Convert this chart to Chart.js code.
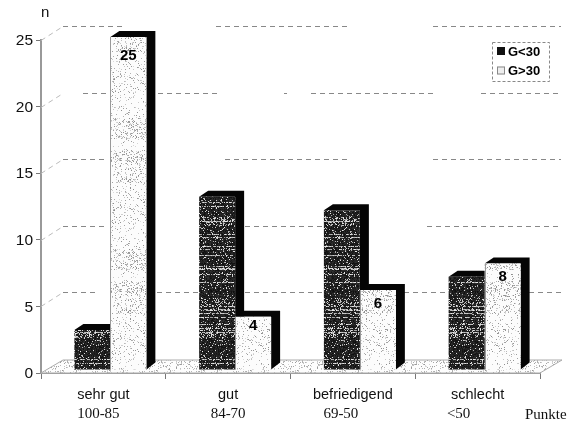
<!DOCTYPE html>
<html>
<head>
<meta charset="utf-8">
<style>html,body{margin:0;padding:0;background:#fff}canvas{display:block}</style>
<script src="https://cdn.jsdelivr.net/npm/chart.js@4"></script>
</head>
<body>
<canvas id="c" width="568" height="422"></canvas>
<script>
const categories = ['sehr gut', 'gut', 'befriedigend', 'schlecht'];
const pointRanges = ['100-85', '84-70', '69-50', '<50'];
const seriesNames = ['G<30', 'G>30'];
const lowValues = [3, 13, 12, 7];
const highValues = [25, 4, 6, 8];
const yTicks = [5, 10, 15, 20, 25];

// styling / layout of the faux-3D scene
const depthX = 9, depthY = 6, barDX = 7, barDY = -3;
const floorDX = 22, floorDY = 13;
const labelDrop = [19, 9, 14, 13];
const rangeShift = [-5, 0, -12, -19];
const gridRuns = {
  25: [[63,126],[216,351],[433,561]],
  20: [[83,107],[158,220],[284,287],[311,434],[481,561]],
  15: [[63,107],[225,350],[433,561]],
  10: [[63,107],[245,324],[427,561]],
  5:  [[63,97],[148,198],[245,324],[404,448],[520,561]]
};

function hash(a, b) {
  const s = Math.sin(a * 127.1 + b * 311.7) * 43758.5453;
  return s - Math.floor(s);
}
function tile(w, h, fn) {
  const cv = document.createElement('canvas');
  cv.width = w; cv.height = h;
  const g = cv.getContext('2d');
  const im = g.createImageData(w, h);
  for (let y = 0; y < h; y++) for (let x = 0; x < w; x++) {
    const v = fn(x, y), i = (y * w + x) * 4;
    im.data[i] = im.data[i+1] = im.data[i+2] = v; im.data[i+3] = 255;
  }
  g.putImageData(im, 0, 0);
  return document.getElementById('c').getContext('2d').createPattern(cv, 'repeat');
}
const darkFill = tile(61, 157, (x, y) => {
  const row = hash(y, 3.3);
  const band = hash(Math.floor(y / 9), 9.1);
  const bright = row > 0.88 ? 0.7 : (band > 0.7 ? 0.28 : 0.1);
  return hash(x, y + 7) < bright ? 150 + 90 * hash(x + 2, y) : 14 + 35 * hash(x, y + 1);
});
const lightFill = tile(59, 131, (x, y) => {
  const band = hash(Math.floor(y / 11), 1.7);
  return hash(x + 5, y) < 0.07 + 0.2 * band ? 140 + 80 * hash(x, y + 4) : 252;
});
const floorFill = tile(47, 23, (x, y) => hash(x + 9, y + 2) < 0.2 ? 150 + 70 * hash(x, y) : 253);

const scene = {
  id: 'scene',
  beforeDatasetsDraw(chart) {
    const { ctx, scales: { x, y } } = chart;
    const y0 = y.getPixelForValue(0), l = x.left, r = x.right;
    ctx.save();
    // floor
    ctx.beginPath();
    ctx.moveTo(l, y0); ctx.lineTo(l + floorDX, y0 - floorDY);
    ctx.lineTo(r + floorDX, y0 - floorDY); ctx.lineTo(r, y0); ctx.closePath();
    ctx.fillStyle = floorFill; ctx.fill();
    ctx.strokeStyle = '#aaa'; ctx.lineWidth = 1; ctx.stroke();
    // receding grid lines
    ctx.setLineDash([5, 4]);
    yTicks.forEach(v => {
      const py = Math.round(y.getPixelForValue(v)) + 0.5;
      const by = py - floorDY - 1;
      ctx.beginPath(); ctx.strokeStyle = '#bbb';
      ctx.moveTo(l, py); ctx.lineTo(l + floorDX, by); ctx.stroke();
      ctx.strokeStyle = '#888';
      gridRuns[v].forEach(([a, b]) => { ctx.beginPath(); ctx.moveTo(a, by); ctx.lineTo(b, by); ctx.stroke(); });
    });
    ctx.restore();

    ctx.save();
    ctx.translate(barDX, barDY);
    // extruded side and top faces behind the front faces
    [0, 1].forEach(d => {
      chart.getDatasetMeta(d).data.forEach(bar => {
        const hw = bar.width / 2, L = bar.x - hw, R = bar.x + hw;
        ctx.fillStyle = '#050505';
        ctx.beginPath();
        ctx.moveTo(L, bar.y); ctx.lineTo(L + depthX, bar.y - depthY);
        ctx.lineTo(R + depthX, bar.y - depthY);
        ctx.lineTo(R + depthX, bar.base - depthY - 1);
        ctx.lineTo(R, bar.base); ctx.lineTo(R, bar.y); ctx.closePath();
        ctx.fill();
      });
    });
    ctx.restore();
    ctx.save();
    ctx.translate(barDX, barDY);
  },
  afterDatasetsDraw(chart) {
    const { ctx, scales: { x, y } } = chart;
    ctx.restore();
    ctx.save();
    // thin edge on the light bars
    ctx.strokeStyle = '#999'; ctx.lineWidth = 1;
    chart.getDatasetMeta(1).data.forEach(bar => {
      const ex = Math.round(bar.x - bar.width / 2 + barDX) + 0.5;
      ctx.beginPath(); ctx.moveTo(ex, bar.y + barDY); ctx.lineTo(ex, bar.base + barDY); ctx.stroke();
    });
    ctx.textAlign = 'center'; ctx.textBaseline = 'middle';
    // value labels on the light bars
    ctx.font = 'bold 15px "Liberation Sans"'; ctx.fillStyle = '#000';
    chart.getDatasetMeta(1).data.forEach((bar, i) => {
      ctx.fillText(String(highValues[i]), bar.x + barDX, bar.y + barDY + labelDrop[i]);
    });
    // second label row and axis captions
    ctx.font = '15px "Liberation Serif"'; ctx.fillStyle = '#111';
    pointRanges.forEach((t, i) => ctx.fillText(t, x.getPixelForValue(i) + rangeShift[i], 414));
    ctx.textAlign = 'left';
    ctx.font = '15px "Liberation Serif"';
    ctx.fillText('Punkte', 525, 415);
    ctx.font = '15px "Liberation Sans"';
    ctx.fillText('n', 41, 13);
    // legend
    ctx.setLineDash([3, 2]); ctx.strokeStyle = '#888'; ctx.lineWidth = 1;
    ctx.strokeRect(492.5, 42.5, 57, 39);
    ctx.setLineDash([]);
    ctx.font = 'bold 13px "Liberation Sans"'; ctx.fillStyle = '#000';
    seriesNames.forEach((n, i) => {
      const ly = 51 + i * 19.5;
      ctx.fillStyle = i ? '#eee' : '#111';
      ctx.fillRect(497, ly - 4, 8, 8);
      ctx.strokeStyle = i ? '#888' : '#111';
      ctx.strokeRect(497.5, ly - 3.5, 7, 7);
      ctx.fillStyle = '#000';
      ctx.fillText(n, 508, ly + 1);
    });
    ctx.restore();
  }
};

new Chart(document.getElementById('c'), {
  type: 'bar',
  data: {
    labels: categories,
    datasets: [
      { label: seriesNames[0], data: lowValues, backgroundColor: darkFill, clip: false },
      { label: seriesNames[1], data: highValues, backgroundColor: lightFill, clip: false }
    ]
  },
  options: {
    responsive: false,
    animation: false,
    events: [],
    categoryPercentage: 0.577,
    barPercentage: 1,
    layout: { padding: { top: 40, right: 28, left: 0, bottom: 0 } },
    plugins: { legend: { display: false }, tooltip: { enabled: false } },
    scales: {
      x: {
        afterFit(s) { s.height = 49; },
        grid: { offset: true, drawOnChartArea: false, tickLength: 6, color: '#777' },
        border: { color: '#999', width: 2 },
        ticks: { color: '#111', font: { family: '"Liberation Sans"', size: 14.5 }, padding: 7, maxRotation: 0, autoSkip: false }
      },
      y: {
        min: 0, max: 25,
        afterFit(s) { s.width = 41; },
        grid: { drawOnChartArea: false, tickLength: 5, color: '#777' },
        border: { color: '#999', width: 2 },
        ticks: { stepSize: 5, color: '#111', padding: 3, labelOffset: 1, font: { family: '"Liberation Sans"', size: 15.5 } }
      }
    }
  },
  plugins: [scene]
});
</script>
</body>
</html>
